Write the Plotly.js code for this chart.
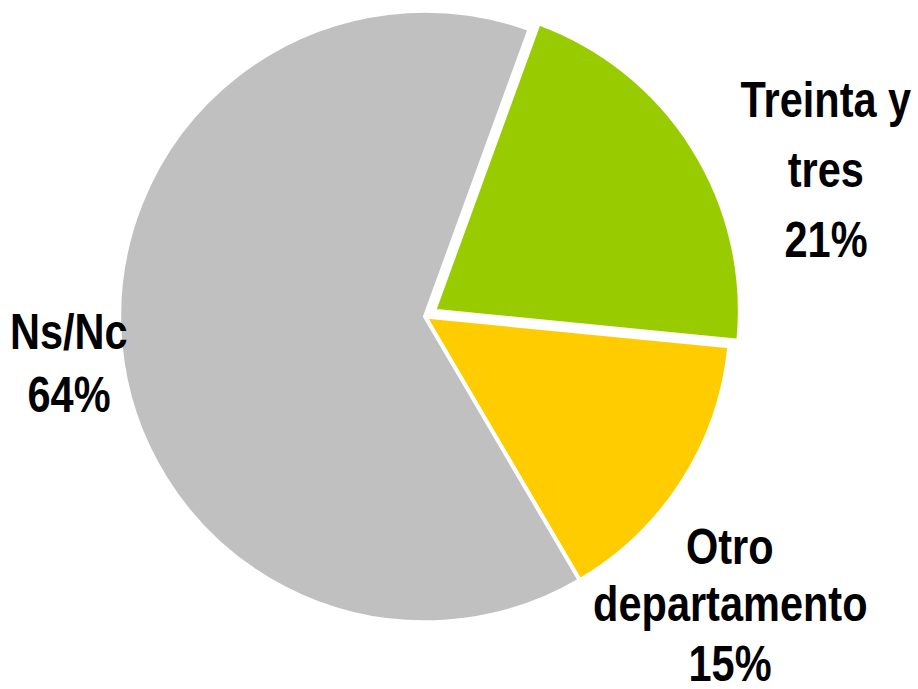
<!DOCTYPE html>
<html>
<head>
<meta charset="utf-8">
<script src="https://cdn.plot.ly/plotly-3.0.1.min.js"></script>
<style>
  body { margin: 0; background: #fff; }
  #grafico { width: 918px; height: 689px; }
</style>
</head>
<body>
<div id="grafico"></div>
<script>
// datos del gráfico
var categorias = ['Treinta y tres', 'Otro departamento', 'Ns/Nc'];
var porcentajes = [21, 15, 64];
var colores = ['#99CC00', '#FFCC00', '#C0C0C0'];
// lineas de cada etiqueta (el texto se parte como en el original)
var lineas_etiqueta = [['Treinta y', 'tres'], ['Otro', 'departamento'], ['Ns/Nc']];

// posicion de cada etiqueta en pixeles: x centro, y de cada linea (centro de mayusculas)
var x_etiqueta = [826, 730, 69];
var y_lineas = [[100, 170, 240], [547, 604, 664], [332, 395]];

var W = 918, H = 689;

var torta = {
  type: 'pie',
  labels: categorias,
  values: porcentajes,
  sort: false,
  direction: 'clockwise',
  rotation: 20,
  pull: [0.035, 0, 0],
  textinfo: 'none',
  hoverinfo: 'label+percent',
  marker: {
    colors: colores,
    line: { color: '#ffffff', width: 4 }
  },
  domain: { x: [0, 850 / W], y: [56 / H, 1] }
};

// etiquetas como anotaciones, una por linea (texto y % tomados de los arrays)
var total = porcentajes.reduce(function (a, b) { return a + b; }, 0);
var anotaciones = [];
for (var i = 0; i < categorias.length; i++) {
  var pct = Math.round(porcentajes[i] / total * 100) + '%';
  var lineas = lineas_etiqueta[i].concat([pct]);
  for (var j = 0; j < lineas.length; j++) {
    anotaciones.push({
      xref: 'paper', yref: 'paper',
      x: x_etiqueta[i] / W,
      y: 1 - y_lineas[i][j] / H,
      xanchor: 'center', yanchor: 'middle',
      showarrow: false,
      text: lineas[j],
      font: {
        family: '"Liberation Sans", Arial, sans-serif',
        size: 50,
        weight: 'bold',
        color: '#000000'
      }
    });
  }
}

var layout = {
  width: W,
  height: H,
  margin: { l: 0, r: 0, t: 0, b: 0 },
  showlegend: false,
  paper_bgcolor: '#ffffff',
  annotations: anotaciones
};

Plotly.newPlot('grafico', [torta], layout, { displayModeBar: false, staticPlot: true }).then(function () {
  // letra angosta como Arial Narrow: se comprime el texto horizontalmente
  document.querySelectorAll('#grafico .annotation-text').forEach(function (el) {
    el.style.transformBox = 'fill-box';
    el.style.transformOrigin = 'center';
    el.style.transform = 'scaleX(0.83)';
  });
});
</script>
</body>
</html>
